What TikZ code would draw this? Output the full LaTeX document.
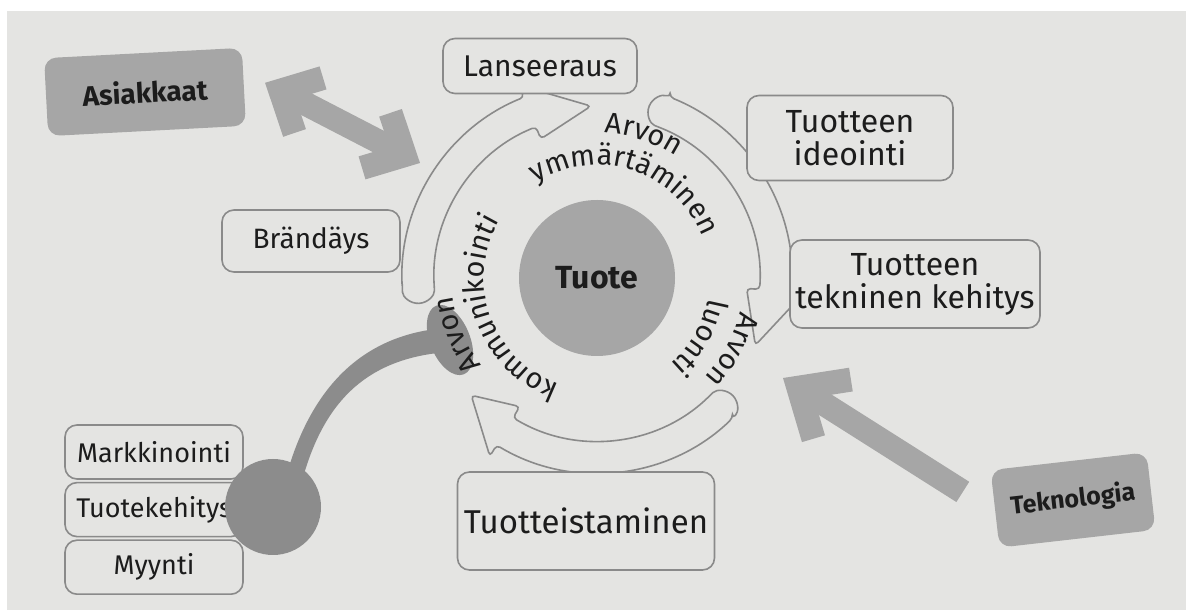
\documentclass[tikz,border=0pt]{standalone}
\usepackage{fontspec}
\setmainfont{Fira Sans}
\usetikzlibrary{positioning,calc,arrows.meta,decorations.text,shapes.geometric}
\definecolor{paper}{RGB}{228,228,226}
\definecolor{edge}{RGB}{138,138,138}
\definecolor{shade}{RGB}{166,166,166}
\definecolor{darkshade}{RGB}{140,140,140}
\definecolor{ink}{RGB}{28,28,28}
\newcommand{\boxfont}[1]{\fontsize{#1}{33}\selectfont}
\newcommand{\ringfont}{\fontsize{29}{30}\selectfont}
\tikzset{
    stage/.style={rectangle, draw=edge, fill=paper, line width=1.6pt, rounded corners=12pt, align=center, text=ink, font=\boxfont{31}, inner sep=3pt},
    actor/.style={rectangle, fill=shade, rounded corners=12pt, align=center, text=ink, font=\bfseries\fontsize{28}{30}\selectfont},
    cycarrow/.style={draw=edge, fill=paper, line width=1.6pt, rounded corners=4pt},
    bigarrow/.style={draw=shade, line width=24pt},
    ringtext/.style={decorate, decoration={text along path, text align=center, text color=ink, text={|\ringfont|#1}}}
}
% one arrow of the cycle: tail angle, barb angle, tip angle
\newcommand{\cyclearrow}[3]{%
    \draw[cycarrow] ($(tuote)+(#1:195)$) arc[start angle=#1, end angle=#2, radius=195]
        -- ($(tuote)+(#2:208)$) -- ($(tuote)+(#3:172)$) -- ($(tuote)+(#2:150)$)
        -- ($(tuote)+(#2:163)$) arc[start angle=#2, end angle=#1, radius=163]
        arc[start angle=#1+180, end angle=#1, radius=16] -- cycle;}

\begin{document}
\begin{tikzpicture}[x=1pt, y=1pt]
    \useasboundingbox (0,0) rectangle (1186,610);
    \fill[white] (0,0) rectangle (1186,610);
    \fill[paper] (7,0) rectangle (1186,599);

    \node (tuote) [circle, fill=shade, minimum size=156pt, text=ink, font=\bfseries\fontsize{32}{34}\selectfont] at (597,332) {Tuote};

    % the cycle
    \cyclearrow{183}{112}{92}
    \cyclearrow{68}{-4}{-23}
    \cyclearrow{-46}{-121}{-137}

    % functions and their link into the cycle
    \node (markkinointi) [stage, font=\boxfont{27}, minimum width=178pt, minimum height=54pt] at (154,158) {Markkinointi};
    \node (tuotekehitys) [stage, font=\boxfont{27}, minimum width=178pt, minimum height=54pt, below=2pt of markkinointi] {Tuotekehitys};
    \node (myynti) [stage, font=\boxfont{27}, minimum width=178pt, minimum height=54pt, below=2pt of tuotekehitys] {Myynti};
    \fill[darkshade] (288,140) .. controls (312,220) and (360,275) .. (445,282) -- (448,258) .. controls (368,252) and (326,210) .. (304,136) -- cycle;
    \node (blob) [ellipse, fill=darkshade, minimum width=40pt, minimum height=74pt, rotate=22] at (450,270) {};
    \node (hub) [circle, fill=darkshade, minimum size=96pt] at (273,103) {};

    \path[ringtext=Arvon] ($(tuote)+(142:145)$) arc[start angle=142, end angle=2, radius=145];
    \path[ringtext=ymmärtäminen] ($(tuote)+(142:113)$) arc[start angle=142, end angle=2, radius=113];
    \path[ringtext=Arvon] ($(tuote)+(42:147)$) arc[start angle=42, end angle=-98, radius=147];
    \path[ringtext=luonti] ($(tuote)+(40:113)$) arc[start angle=40, end angle=-100, radius=113];
    \path[ringtext=Arvon] ($(tuote)+(272:145)$) arc[start angle=272, end angle=132, radius=145];
    \path[ringtext=kommunikointi] ($(tuote)+(270:113)$) arc[start angle=270, end angle=130, radius=113];

    \node (lanseeraus) [stage, font=\boxfont{30}, minimum width=194pt, minimum height=55pt] at (540,544) {Lanseeraus};
    \node (ideointi) [stage, font=\boxfont{32}, minimum width=206pt, minimum height=85pt] at (850,472) {Tuotteen\\ideointi};
    \node (tekninen) [stage, font=\boxfont{32}, minimum width=250pt, minimum height=88pt] at (915,326) {Tuotteen\\tekninen kehitys};
    \node (brandays) [stage, font=\boxfont{28}, minimum width=178pt, minimum height=62pt] at (311,369) {Brändäys};
    \node (tuotteistaminen) [stage, font=\boxfont{33}, minimum width=257pt, minimum height=98pt] at (586,89) {Tuotteistaminen};

    % customers and technology
    \node (asiakkaat) [actor, minimum width=198pt, minimum height=78pt, rotate=3] at (145,518) {Asiakkaat};
    \node (teknologia) [actor, minimum width=157pt, minimum height=78pt, rotate=6.5, font=\bfseries\fontsize{25}{27}\selectfont] at (1073,110) {Teknologia};
    \coordinate (asiakTip) at (420,447);
    \coordinate (tekTip) at (783,232);
    \draw[bigarrow, {Straight Barb[length=32pt, width=62pt]}-{Straight Barb[length=32pt, width=62pt]}] ([shift={(21,4)}]asiakkaat.east) -- (asiakTip);
    \draw[bigarrow, -{Straight Barb[length=40pt, width=70pt]}] ([shift={(-32,17)}]teknologia.west) -- (tekTip);
\end{tikzpicture}
\end{document}
